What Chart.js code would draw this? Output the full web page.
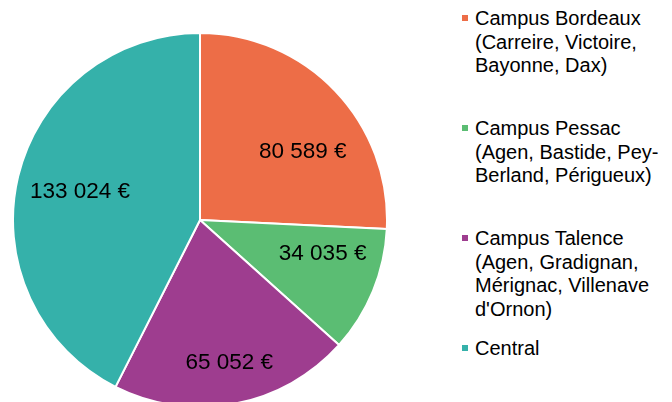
<!DOCTYPE html>
<html>
<head>
<meta charset="utf-8">
<script src="https://cdn.jsdelivr.net/npm/chart.js@4.4.1/dist/chart.umd.min.js"></script>
<style>
  html, body { margin: 0; padding: 0; background: #fff; }
  body { width: 672px; height: 402px; overflow: hidden; position: relative;
         font-family: "Liberation Sans", Arial, sans-serif; color: #000; }
  #wrap { position: absolute; left: 12px; top: 32px; width: 376px; height: 376px; }
  .leg { position: absolute; left: 475px; font-size: 20px; line-height: 23.5px; white-space: nowrap; }
  .leg i { position: absolute; left: -13px; top: 8px; width: 6px; height: 6px; }
</style>
</head>
<body>
<div id="wrap"><canvas id="pie"></canvas></div>
<div id="legend"></div>
<script>
// données
const labels = ["Campus Bordeaux", "Campus Pessac", "Campus Talence", "Central"];
const legendLines = [
  ["Campus Bordeaux", "(Carreire, Victoire,", "Bayonne, Dax)"],
  ["Campus Pessac", "(Agen, Bastide, Pey-", "Berland, Périgueux)"],
  ["Campus Talence", "(Agen, Gradignan,", "Mérignac, Villenave", "d'Ornon)"],
  ["Central"]
];
const values = [80589, 34035, 65052, 133024];
const colors = ["#ED6D47", "#5BBD73", "#9E3D8F", "#35B1AA"];

// placement des étiquettes (fraction du rayon, décalage d'angle en degrés)
const labelRadius = [0.66, 0.68, 0.78, 0.66];
const labelShift = [10, -7, -1, 0];

const fmt = v => String(v).replace(/\B(?=(\d{3})+(?!\d))/g, " ") + " €";

const sliceLabels = {
  id: "sliceLabels",
  afterDatasetsDraw(chart) {
    const ctx = chart.ctx;
    const meta = chart.getDatasetMeta(0);
    ctx.save();
    ctx.font = '22.5px "Liberation Sans", Arial, sans-serif';
    ctx.fillStyle = "#000";
    ctx.textAlign = "center";
    ctx.textBaseline = "middle";
    meta.data.forEach((arc, i) => {
      const p = arc.getProps(["x", "y", "startAngle", "endAngle", "outerRadius"], true);
      const a = (p.startAngle + p.endAngle) / 2 + labelShift[i] * Math.PI / 180;
      const r = p.outerRadius * labelRadius[i];
      ctx.fillText(fmt(values[i]), p.x + Math.cos(a) * r, p.y + Math.sin(a) * r);
    });
    ctx.restore();
  }
};

new Chart(document.getElementById("pie"), {
  type: "pie",
  data: {
    labels,
    datasets: [{ data: values, backgroundColor: colors, borderColor: "#fff", borderWidth: 2 }]
  },
  options: {
    responsive: true,
    maintainAspectRatio: false,
    animation: false,
    layout: { padding: 0 },
    plugins: { legend: { display: false }, tooltip: { enabled: false } }
  },
  plugins: [sliceLabels]
});

// légende à droite, pas fixe de 110px
const legend = document.getElementById("legend");
legendLines.forEach((lines, i) => {
  const d = document.createElement("div");
  d.className = "leg";
  d.style.top = (7 + i * 110) + "px";
  d.innerHTML = '<i style="background:' + colors[i] + '"></i>' + lines.join("<br>");
  legend.appendChild(d);
});
</script>
</body>
</html>
